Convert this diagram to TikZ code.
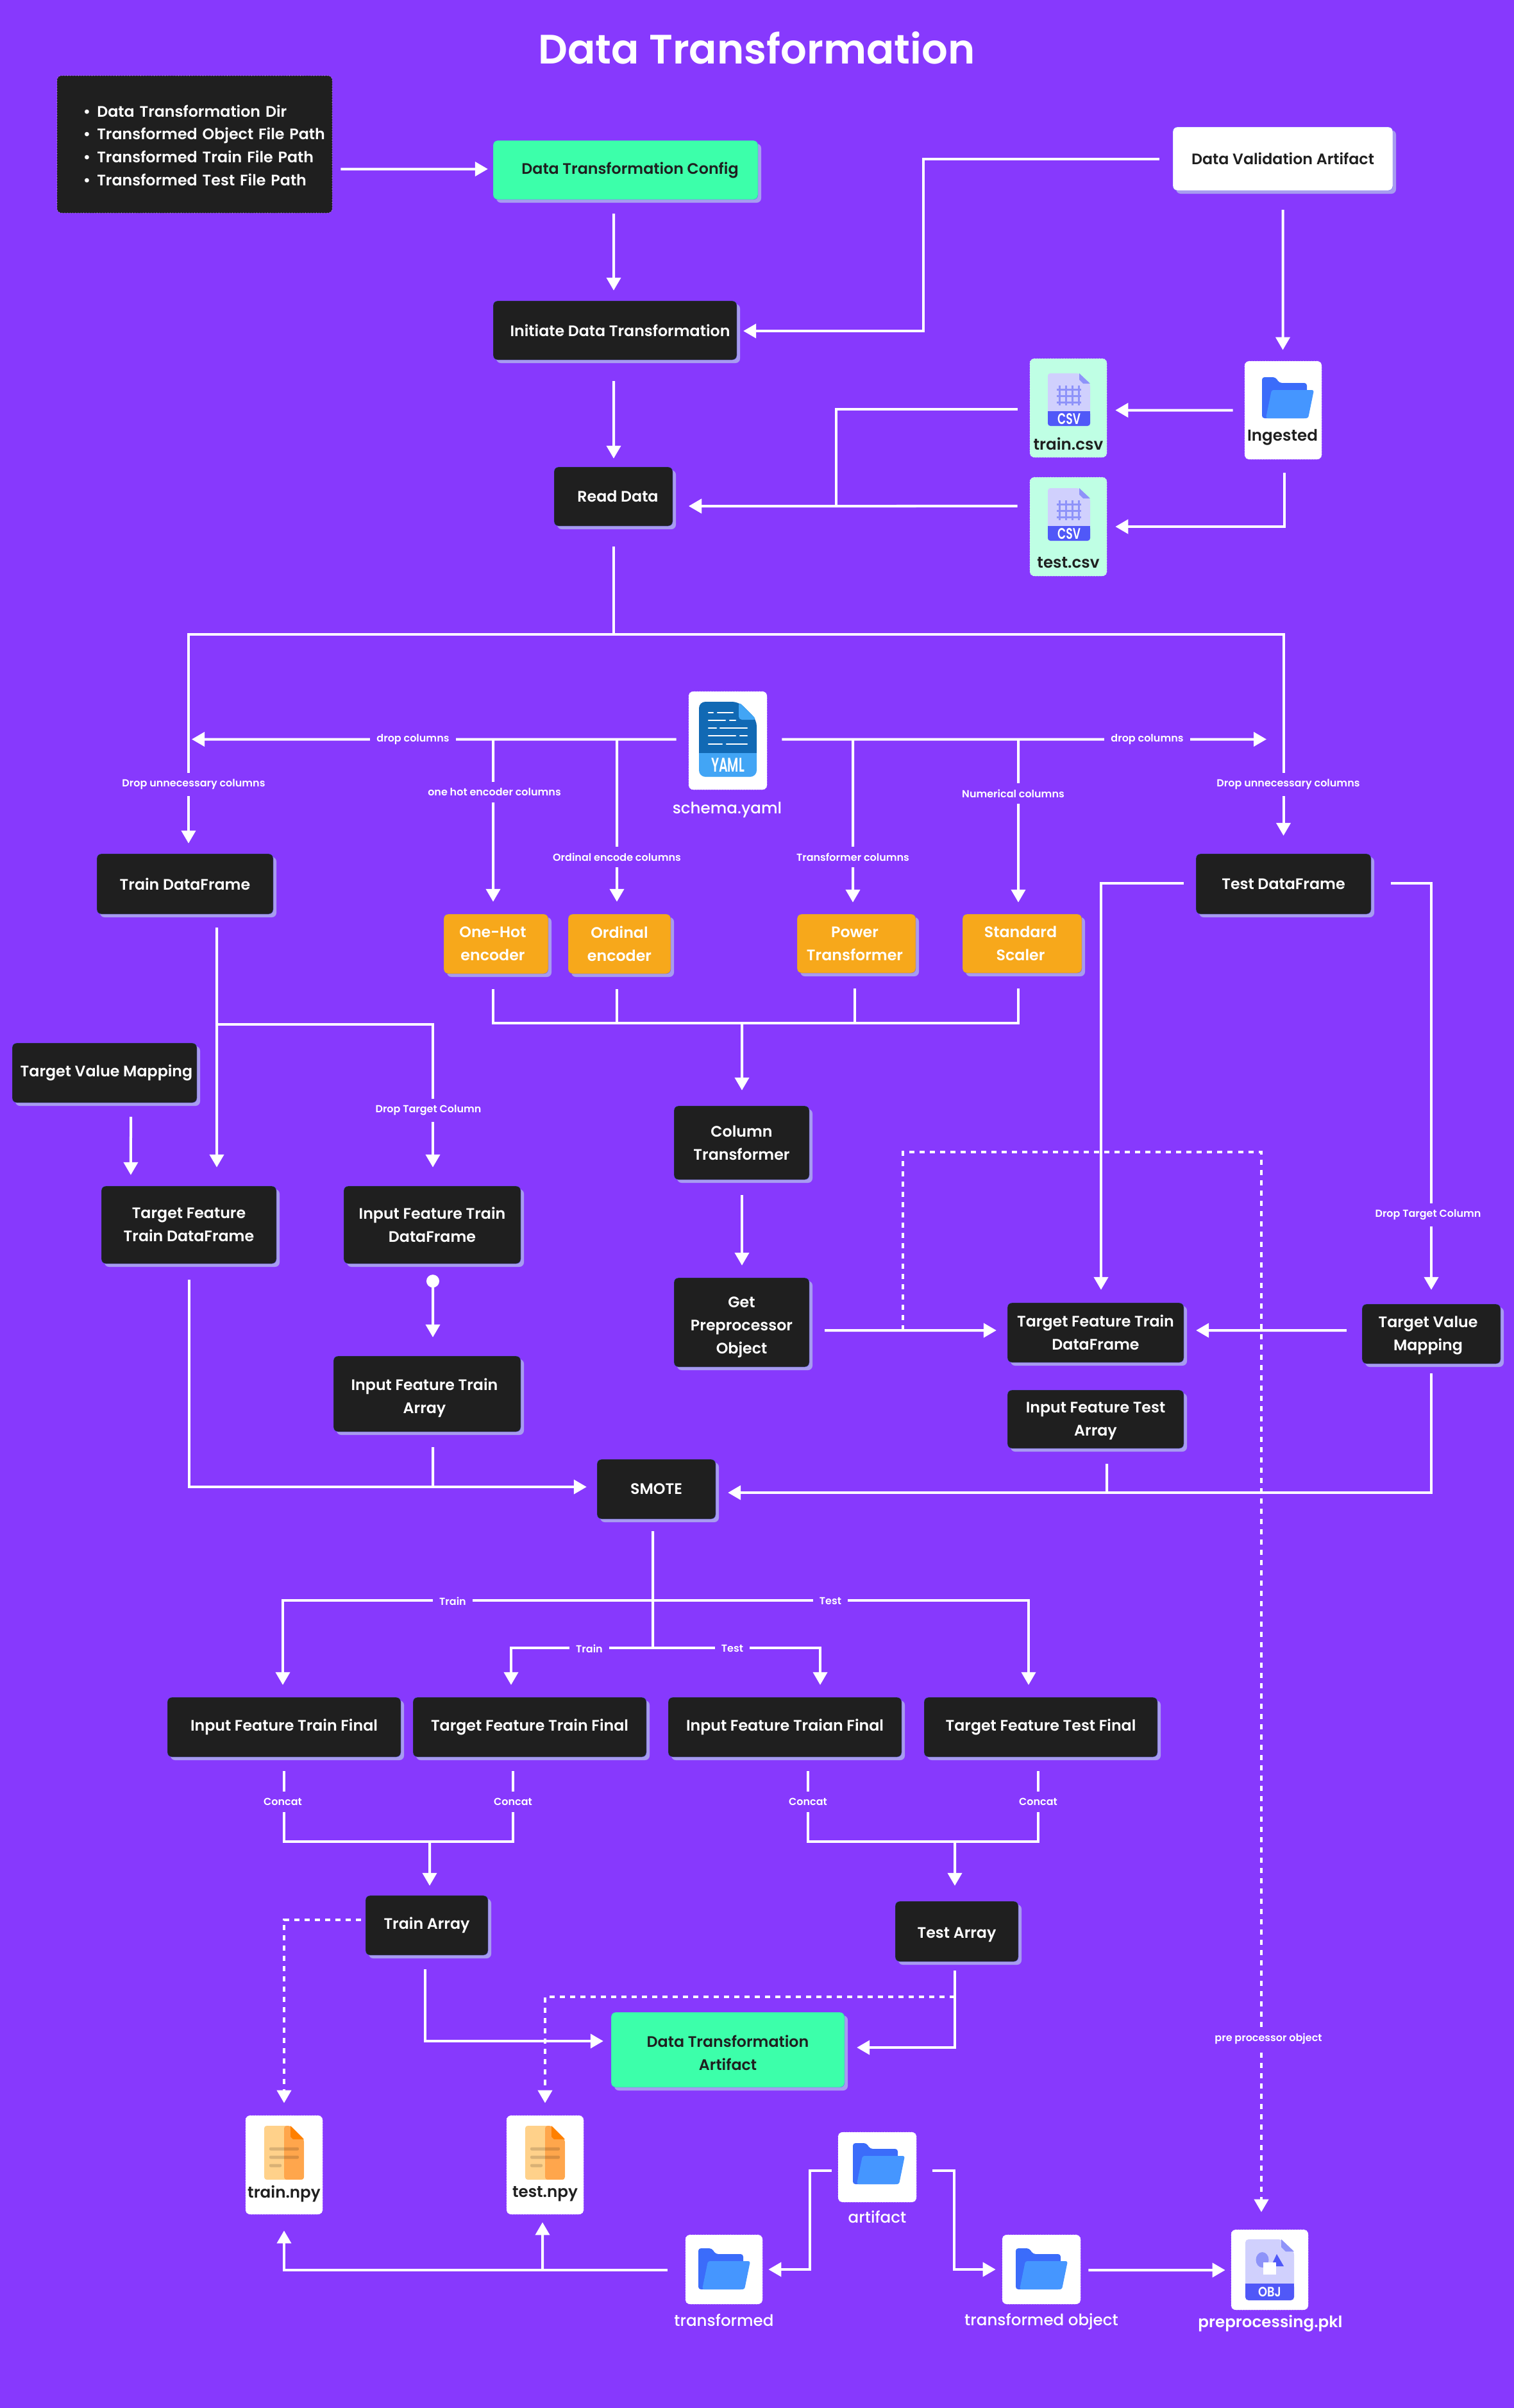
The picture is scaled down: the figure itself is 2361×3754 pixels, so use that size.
\documentclass[tikz,border=0pt]{standalone}
\usepackage{fontspec}
\setmainfont{Poppins}[UprightFont={* Medium},BoldFont={* SemiBold}]
\usepackage{xcolor}
\usetikzlibrary{arrows.meta,shadows}
\definecolor{canvas}{HTML}{8739FD}
\definecolor{boxdark}{HTML}{1F1F1F}
\definecolor{mint}{HTML}{3CFFAA}
\definecolor{paleMint}{HTML}{BFFFE4}
\definecolor{amber}{HTML}{F7A81B}
\definecolor{shade}{HTML}{A79BF0}
\definecolor{edge}{HTML}{5C5CF0}
\definecolor{folderBack}{HTML}{3B6CFA}
\definecolor{folderFront}{HTML}{4596FF}
\definecolor{docPale}{HTML}{D0D0FD}
\definecolor{docMid}{HTML}{8E93F9}
\definecolor{docBand}{HTML}{5058F8}
\definecolor{yamlDark}{HTML}{1169B4}
\definecolor{yamlLight}{HTML}{42A5F5}
\def\bitem#1{\hspace*{.365cm}\textbullet\hspace{.1cm}#1}
\def\topgap#1{\rule{0pt}{#1}}

\begin{document}
\begin{tikzpicture}[x=0.01cm,y=-0.01cm]
    \tikzset{
        sized/.style 2 args={minimum width=#1*0.01cm, minimum height=#2*0.01cm, inner sep=0pt},
        plainbox/.style={rectangle, rounded corners=0.07cm, align=center,
            font=\fontsize{6.75pt}{10.2pt}\selectfont\bfseries, draw=edge, line width=0.1pt,
            general shadow={fill=shade, shadow xshift=0.05cm, shadow yshift=-0.05cm}},
        darkbox/.style={plainbox, fill=boxdark, text=white},
        greenbox/.style={plainbox, fill=mint, text=boxdark},
        whitebox/.style={plainbox, fill=white, text=boxdark},
        orangebox/.style={plainbox, fill=amber, text=white},
        filebox/.style={rectangle, rounded corners=0.07cm, fill=#1, draw=white, densely dotted, line width=0.2pt},
        flow/.style={draw=white, line width=0.04cm, -{Triangle[length=0.2cm,width=0.22cm]}},
        link/.style={draw=white, line width=0.04cm},
        dashflow/.style={flow, dash pattern=on 0.08cm off 0.08cm},
        tag/.style={fill=canvas, text=white, inner xsep=0.1cm, inner ysep=0.1cm, font=\fontsize{4.55pt}{5pt}\selectfont\bfseries},
        filename/.style={font=\fontsize{7pt}{8pt}\selectfont, text=#1, inner sep=0pt},
        pics/foldericon/.style={code={
            \fill[folderBack, rounded corners=0.04cm] (-40,-32) -- (-19,-32) -- (-13,-23) -- (30,-23) -- (30,32) -- (-40,32) -- cycle;
            \fill[folderFront, rounded corners=0.03cm] (-25,-12) -- (41,-12) -- (32,32) -- (-34,32) -- cycle;
        }},
        pics/csvicon/.style={code={
            \fill[docPale, rounded corners=0.04cm] (-33,-41) -- (16,-41) -- (33,-25) -- (33,41) -- (-33,41) -- cycle;
            \fill[docMid] (16,-41) -- (33,-25) -- (22,-25) -- (16,-31) -- cycle;
            \fill[docBand, rounded corners=0.04cm] (-33,18) rectangle (33,41);
            \fill[docBand] (-33,18) rectangle (33,28);
            \foreach \gx in {-15,-5,5,15} {\draw[docMid, line width=0.03cm] (\gx,-22) -- (\gx,9);}
            \foreach \gy in {-16,-6,4} {\draw[docMid, line width=0.03cm] (-19,\gy) -- (19,\gy);}
            \node[text=white, xscale=0.72, font=\fontsize{6.8pt}{7pt}\selectfont\bfseries, inner sep=0pt] (tag) at (0,30) {CSV};
        }},
        pics/npyicon/.style={code={
            \fill[orange!40!white!90!yellow, rounded corners=0.04cm] (-31,-42) -- (10,-42) -- (31,-21) -- (31,42) -- (-31,42) -- cycle;
            \begin{scope}
                \clip[rounded corners=0.04cm] (0,-42) -- (10,-42) -- (31,-21) -- (31,42) -- (0,42) -- cycle;
                \fill[orange!70!white] (0,-42) rectangle (31,42);
            \end{scope}
            \fill[orange] (10,-42) -- (31,-21) -- (14,-21) -- (10,-25) -- cycle;
            \fill[black, opacity=0.15, rounded corners=0.02cm] (-23,-8.5) rectangle (23,-3.5);
            \fill[black, opacity=0.15, rounded corners=0.02cm] (-23,4.5) rectangle (23,9.5);
            \fill[black, opacity=0.15, rounded corners=0.02cm] (-23,17.5) rectangle (-4,22.5);
        }},
    }
    \fill[canvas] (0,0) rectangle (2361,3754);
    \useasboundingbox (0,0) rectangle (2361,3754);

    \node[text=white, inner sep=0pt, font=\fontsize{18.2pt}{20pt}\selectfont\bfseries] (title) at (1180,75) {Data Transformation};

    \node[rectangle, rounded corners=0.07cm, fill=boxdark, draw=white, densely dotted, line width=0.2pt, sized={429}{214},
        text=white, align=left, text width=4.2cm, font=\fontsize{6.75pt}{10.2pt}\selectfont\bfseries] (params) at (303.5,225)
        {\topgap{.22cm}\bitem{Data Transformation Dir}\\ \bitem{Transformed Object File Path}\\ \bitem{Transformed Train File Path}\\ \bitem{Transformed Test File Path}};
    \node[greenbox, sized={413}{92}] (cfg) at (975.5,265) {\hspace*{.14cm}Data Transformation Config};
    \node[whitebox, sized={343}{99}] (dva) at (2000.5,247.5) {Data Validation Artifact};
    \node[darkbox, sized={380}{92}] (init) at (959,515) {\hspace*{.16cm}Initiate Data Transformation};
    \node[darkbox, sized={185}{92}] (read) at (956.5,774) {\hspace*{.14cm}Read Data};

    % file boxes, then their icons and names
    \node[filebox=paleMint, sized={120}{154}] (trainfile) at (1666,636) {};
    \node[filebox=paleMint, sized={120}{154}] (testfile) at (1666,821) {};
    \node[filebox=white, sized={120}{153}] (ingbox) at (2001,639.5) {};
    \node[filebox=white, sized={122}{153}] (schemabox) at (1135,1154.5) {};
    \node[filebox=white, sized={120}{154}] (trainnpy) at (443,3375) {};
    \node[filebox=white, sized={120}{154}] (testnpy) at (850,3375) {};
    \node[filebox=white, sized={120}{108}] (transfd) at (1129,3538) {};
    \node[filebox=white, sized={122}{109}] (artfd) at (1368,3378.5) {};
    \node[filebox=white, sized={122}{108}] (tobjfd) at (1624,3538) {};
    \node[filebox=white, sized={120}{125}] (pklbox) at (1980,3538.5) {};

    \pic (trainico) at (1667,623) {csvicon};
    \pic (testico) at (1667,802) {csvicon};
    \pic (ingico) at (2008,620) {foldericon};
    \pic (artico) at (1370,3373) {foldericon};
    \pic (transico) at (1129,3537) {foldericon};
    \pic (tobjico) at (1624,3537) {foldericon};
    \pic (npyico1) at (443,3356) {npyicon};
    \pic (npyico2) at (850,3356) {npyicon};

    % yaml icon
    \fill[yamlDark, rounded corners=0.1cm] (1090,1094) -- (1152,1094) -- (1180,1122) -- (1180,1180) -- (1090,1180) -- cycle;
    \fill[yamlLight, rounded corners=0.1cm] (1090,1160) rectangle (1180,1211);
    \fill[yamlDark] (1090,1160) rectangle (1180,1174);
    \fill[yamlLight] (1090,1174) rectangle (1180,1190);
    \fill[yamlLight, rounded corners=0.05cm] (1152,1094) -- (1152,1122) -- (1180,1122) -- cycle;
    \foreach \ya/\xa/\xb/\xc/\xd in {1111/1105/1112/1119/1143, 1123/1105/1131/1138/1147, 1135/1105/1117/1123/1165, 1147/1105/1147/1154/1165, 1160/1105/1126/1133/1165} {
        \draw[white, line width=0.025cm, line cap=round] (\xa,\ya) -- (\xb,\ya);
        \draw[white, line width=0.025cm, line cap=round] (\xc,\ya) -- (\xd,\ya);
    }
    \node[text=white, xscale=0.62, inner sep=0pt, font=\fontsize{8.8pt}{9pt}\selectfont\bfseries] (yamltag) at (1135,1193) {YAML};

    % obj icon
    \fill[docPale, rounded corners=0.05cm] (1942,3491) -- (1998,3491) -- (2018,3510) -- (2018,3586) -- (1942,3586) -- cycle;
    \fill[docMid] (1998,3491) -- (2018,3510) -- (2005,3510) -- (1998,3503) -- cycle;
    \fill[docBand, rounded corners=0.05cm] (1942,3560) rectangle (2018,3586);
    \fill[docBand] (1942,3560) rectangle (2018,3572);
    \fill[docMid] (1968.5,3523) ellipse [x radius=10, y radius=12];
    \fill[docBand] (1991,3514) -- (1982,3533) -- (2002,3533) -- cycle;
    \fill[white] (1970,3527) rectangle (1990,3546);
    \node[text=white, xscale=0.85, inner sep=0pt, font=\fontsize{6pt}{7pt}\selectfont\bfseries] (objtag) at (1980,3573) {OBJ};

    \node[filename=boxdark, font=\fontsize{7pt}{8pt}\selectfont\bfseries] (trainname) at (1666,692) {train.csv};
    \node[filename=boxdark, font=\fontsize{7pt}{8pt}\selectfont\bfseries] (testname) at (1666,877) {test.csv};
    \node[filename=boxdark, font=\fontsize{7pt}{8pt}\selectfont\bfseries] (ingname) at (2000,682) {Ingested};
    \node[filename=white] (schemaname) at (1134,1263) {schema.yaml};
    \node[filename=boxdark, font=\fontsize{7pt}{8pt}\selectfont\bfseries] (tnpyname) at (443,3420) {train.npy};
    \node[filename=boxdark, font=\fontsize{7pt}{8pt}\selectfont\bfseries] (enpyname) at (850,3420) {test.npy};
    \node[filename=white] (artname) at (1368,3456) {artifact};
    \node[filename=white] (transname) at (1129,3617) {transformed};
    \node[filename=white] (tobjname) at (1624,3619) {transformed object};
    \node[filename=white, font=\fontsize{7pt}{8pt}\selectfont\bfseries] (pklname) at (1981,3622) {preprocessing.pkl};

    \node[darkbox, sized={275}{94}] (traindf) at (288.5,1378) {Train DataFrame};
    \node[darkbox, sized={273}{94}] (testdf) at (2001.5,1378) {Test DataFrame};
    \node[orangebox, sized={163}{93}] (onehot) at (773.5,1471.5) {\hspace*{-.1cm}One-Hot\\\hspace*{-.1cm}encoder};
    \node[orangebox, sized={160}{93}] (ordinal) at (966,1471.5) {Ordinal\\encoder};
    \node[orangebox, sized={185}{92}] (power) at (1335.5,1471) {\hspace*{-.05cm}Power\\\hspace*{-.05cm}Transformer};
    \node[orangebox, sized={186}{92}] (standard) at (1594,1471) {\hspace*{-.05cm}Standard\\\hspace*{-.05cm}Scaler};
    \node[darkbox, sized={288}{93}] (mapleft) at (163,1672.5) {\hspace*{.06cm}Target Value Mapping};
    \node[darkbox, sized={273}{121}] (tftrain) at (294.5,1909.5) {Target Feature\\Train DataFrame};
    \node[darkbox, sized={276}{121}] (iftrain) at (674,1909.5) {Input Feature Train\\DataFrame};
    \node[darkbox, sized={292}{118}] (ifarr) at (666,2173) {\topgap{.32cm}\hspace*{-.08cm}Input Feature Train\\\hspace*{-.08cm}Array};
    \node[darkbox, sized={211}{115}] (coltr) at (1156.5,1781.5) {Column\\Transformer};
    \node[darkbox, sized={211}{139}] (getpre) at (1156.5,2061.5) {\topgap{.32cm}Get\\Preprocessor\\Object};
    \node[darkbox, sized={275}{93}] (tfright) at (1708.5,2077.5) {Target Feature Train\\DataFrame};
    \node[darkbox, sized={216}{93}] (mapright) at (2232,2079.5) {\topgap{.22cm}\hspace*{-.1cm}Target Value\\\hspace*{-.1cm}Mapping};
    \node[darkbox, sized={275}{91}] (iftest) at (1708.5,2212.5) {\topgap{.22cm}Input Feature Test\\Array};
    \node[darkbox, sized={185}{93}] (smote) at (1023.5,2321.5) {SMOTE};
    \node[darkbox, sized={364}{93}] (final1) at (443,2692.5) {Input Feature Train Final};
    \node[darkbox, sized={364}{93}] (final2) at (826,2692.5) {Target Feature Train Final};
    \node[darkbox, sized={364}{93}] (final3) at (1224,2692.5) {Input Feature Traian Final};
    \node[darkbox, sized={364}{93}] (final4) at (1623,2692.5) {Target Feature Test Final};
    \node[darkbox, sized={191}{93}] (trainarr) at (665.5,3001.5) {Train Array};
    \node[darkbox, sized={192}{94}] (testarr) at (1492,3011) {\topgap{.28cm}Test Array};
    \node[greenbox, sized={364}{117}] (artifact) at (1135,3195.5) {\topgap{.28cm}Data Transformation\\Artifact};

    % free ends and joints
    \coordinate (dropleft) at (299,1152.5);
    \coordinate (dropright) at (1975,1152.5);
    \coordinate (schemaA) at (769,1152.5);
    \coordinate (schemaB) at (962,1152.5);
    \coordinate (schemaC) at (1330,1152.5);
    \coordinate (schemaD) at (1588,1152.5);
    \coordinate (mergeE) at (1157,1595);
    \coordinate (trainsplit) at (338,1597);
    \coordinate (smoteinL) at (675,2318);
    \coordinate (smoteinR) at (1726,2327);
    \coordinate (preout) at (1408,2074);
    \coordinate (smoteup) at (1018,2495);
    \coordinate (smotelow) at (1018,2569);
    \coordinate (concatL) at (670,2871);
    \coordinate (concatR) at (1489,2871);
    \coordinate (testdash) at (1489,3113);
    \coordinate (npyjoin) at (846,3539);

    \draw[flow] ([xshift=.13cm,yshift=-.385cm]params.east) -- ([xshift=-.08cm,yshift=.015cm]cfg.west);
    \draw[flow] ([xshift=-.185cm,yshift=-.22cm]cfg.south) -- ([xshift=-.02cm,yshift=.16cm]init.north);
    \draw[flow] ([xshift=-.02cm,yshift=-.33cm]init.south) -- ([xshift=.005cm,yshift=.13cm]read.north);
    \draw[flow] ([xshift=-.21cm]dva.west) -- ++(-368,0) |- ([xshift=.1cm,yshift=-.01cm]init.east);
    \draw[flow] ([yshift=-.3cm]dva.south) -- ([xshift=-.005cm,yshift=.17cm]ingbox.north);
    \draw[flow] ([xshift=-.18cm]ingbox.west) -- ([xshift=.13cm,yshift=-.035cm]trainfile.east);
    \draw[flow] ([xshift=.02cm,yshift=-.21cm]ingbox.south) |- ([xshift=.13cm]testfile.east);
    \draw[flow] ([xshift=-.19cm,yshift=-.02cm]trainfile.west) -- ++(-283,0) |- ([xshift=.25cm,yshift=-.15cm]read.east);
    \draw[flow] ([xshift=-.19cm,yshift=.32cm]testfile.west) -- ([xshift=.25cm,yshift=-.15cm]read.east);

    \draw[flow] ([yshift=-.32cm]read.south) -- ++(0,137) -| ([xshift=.055cm,yshift=.16cm]traindf.north);
    \draw[flow] ([yshift=-.32cm]read.south) -- ++(0,137) -| ([yshift=.28cm]testdf.north);

    \draw[flow] ([xshift=-.19cm,yshift=.02cm]schemabox.west) -- (dropleft);
    \draw[flow] ([xshift=.23cm,yshift=.02cm]schemabox.east) -- (dropright);
    \draw[flow] (schemaA) -- ([xshift=-.045cm,yshift=.19cm]onehot.north);
    \draw[flow] (schemaB) -- ([xshift=-.04cm,yshift=.19cm]ordinal.north);
    \draw[flow] (schemaC) -- ([xshift=-.055cm,yshift=.18cm]power.north);
    \draw[flow] (schemaD) -- ([xshift=-.06cm,yshift=.18cm]standard.north);

    \draw[link] ([xshift=-.045cm,yshift=-.24cm]onehot.south) -- ++(0,53) -| ([xshift=-.06cm,yshift=-.24cm]standard.south);
    \draw[link] ([xshift=-.04cm,yshift=-.24cm]ordinal.south) -- ++(0,53);
    \draw[link] ([xshift=-.03cm,yshift=-.24cm]power.south) -- ++(0,53);
    \draw[flow] (mergeE) -- ([xshift=.005cm,yshift=.24cm]coltr.north);
    \draw[flow] ([xshift=.005cm,yshift=-.24cm]coltr.south) -- ([xshift=.005cm,yshift=.19cm]getpre.north);
    \draw[flow] ([xshift=.24cm,yshift=-.125cm]getpre.east) -- ([xshift=-.17cm,yshift=.035cm]tfright.west);
    \draw[dashflow] (preout) -- ++(0,-278) -| ([xshift=-.13cm,yshift=.27cm]pklbox.north);

    \draw[flow] ([xshift=.495cm,yshift=-.21cm]traindf.south) -- ([xshift=.435cm,yshift=.29cm]tftrain.north);
    \draw[flow] (trainsplit) -| ([xshift=.01cm,yshift=.29cm]iftrain.north);
    \draw[flow] ([xshift=.41cm,yshift=-.22cm]mapleft.south) -- ([xshift=-.905cm,yshift=.17cm]tftrain.north);
    \draw[flow, {Circle[length=0.2cm]}-{Triangle[length=0.2cm,width=0.22cm]}] ([xshift=.01cm,yshift=-.17cm]iftrain.south) -- ([xshift=.09cm,yshift=.29cm]ifarr.north);
    \draw[flow] ([yshift=-.25cm]tftrain.south) |- ([xshift=-.16cm,yshift=.035cm]smote.west);
    \draw[link] ([xshift=.09cm,yshift=-.24cm]ifarr.south) -- (smoteinL);

    \draw[flow] ([xshift=-.19cm,yshift=.01cm]testdf.west) -| ([xshift=.085cm,yshift=.2cm]tfright.north);
    \draw[flow] ([xshift=.31cm,yshift=.01cm]testdf.east) -| ([yshift=.22cm]mapright.north);
    \draw[flow] ([xshift=-.24cm,yshift=.055cm]mapright.west) -- ([xshift=.19cm,yshift=.035cm]tfright.east);
    \draw[flow] ([yshift=-.15cm]mapright.south) |- ([xshift=.19cm,yshift=-.055cm]smote.east);
    \draw[link] ([xshift=.175cm,yshift=-.24cm]iftest.south) -- (smoteinR);

    \draw[link] ([xshift=-.055cm,yshift=-.19cm]smote.south) -- (smotelow);
    \draw[flow] (smoteup) -| ([xshift=-.02cm,yshift=.19cm]final1.north);
    \draw[flow] (smoteup) -| ([xshift=-.19cm,yshift=.19cm]final4.north);
    \draw[flow] (smotelow) -| ([xshift=-.29cm,yshift=.19cm]final2.north);
    \draw[flow] (smotelow) -| ([xshift=.55cm,yshift=.19cm]final3.north);

    \draw[link] ([yshift=-.22cm]final1.south) -- ++(0,110) -| ([xshift=-.26cm,yshift=-.22cm]final2.south);
    \draw[link] ([xshift=.36cm,yshift=-.22cm]final3.south) -- ++(0,110) -| ([xshift=-.04cm,yshift=-.22cm]final4.south);
    \draw[flow] (concatL) -- ([xshift=.045cm,yshift=.15cm]trainarr.north);
    \draw[flow] (concatR) -- ([xshift=-.03cm,yshift=.24cm]testarr.north);

    \draw[dashflow] ([xshift=-.07cm,yshift=.085cm]trainarr.west) -| ([yshift=.19cm]trainnpy.north);
    \draw[flow] ([xshift=-.025cm,yshift=-.22cm]trainarr.south) |- ([xshift=-.12cm,yshift=.135cm]artifact.west);
    \draw[flow] ([xshift=-.03cm,yshift=-.14cm]testarr.south) |- ([xshift=.19cm,yshift=.035cm]artifact.east);
    \draw[dashflow] (testdash) -| ([yshift=.19cm]testnpy.north);

    \draw[flow] ([xshift=-.28cm,yshift=-.01cm]transfd.west) -| ([yshift=-.25cm]trainnpy.south);
    \draw[flow] (npyjoin) -- ([xshift=-.04cm,yshift=-.12cm]testnpy.south);
    \draw[flow] ([xshift=-.1cm,yshift=-.055cm]artfd.west) -- ++(-34,0) |- ([xshift=.09cm]transfd.east);
    \draw[flow] ([xshift=.25cm,yshift=-.055cm]artfd.east) -- ++(34,0) |- ([xshift=-.1cm]tobjfd.west);
    \draw[flow] ([xshift=.12cm,yshift=-.01cm]tobjfd.east) -- ([xshift=-.09cm,yshift=-.005cm]pklbox.west);

    % labels sit on the lines and cut them
    \node[tag] (lbldropL) at (644,1152.5) {drop columns};
    \node[tag] (lbldropR) at (1789,1152.5) {drop columns};
    \node[tag] (lblunneedL) at (302,1223) {Drop unnecessary columns};
    \node[tag] (lblunneedR) at (2009,1223) {Drop unnecessary columns};
    \node[tag] (lblonehot) at (771,1235) {one hot encoder columns};
    \node[tag] (lblordinal) at (962,1336) {Ordinal encode columns};
    \node[tag] (lbltrans) at (1330,1336) {Transformer columns};
    \node[tag] (lblnum) at (1580,1237) {Numerical columns};
    \node[tag] (lbltargetL) at (668,1731) {Drop Target Column};
    \node[tag] (lbltargetR) at (2227,1894) {Drop Target Column};
    \node[tag] (lblpre) at (1978,3178) {pre processor object};
    \node[tag] (lblouterL) at (706,2496) {Train};
    \node[tag] (lblouterR) at (1295,2496) {Test};
    \node[tag] (lblinnerL) at (919,2570) {Train};
    \node[tag] (lblinnerR) at (1142,2570) {Test};
    \foreach \cx in {441,800,1260,1619} {
        \node[tag] (lblconcat\cx) at (\cx,2809) {Concat};
    }
\end{tikzpicture}
\end{document}
